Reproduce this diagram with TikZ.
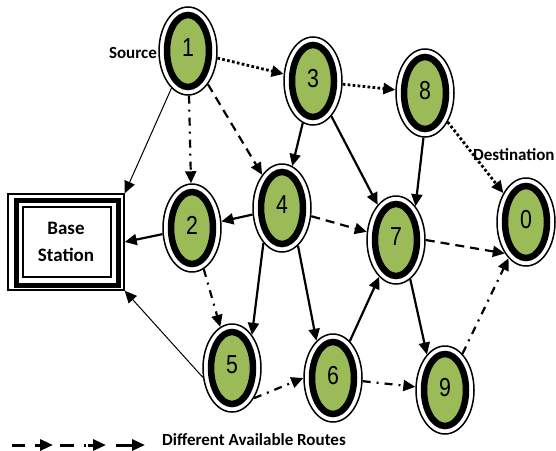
\documentclass[tikz,border=0pt]{standalone}
\usepackage{fontspec}
\setmainfont{Carlito}
\newfontfamily\digitfont[FakeStretch=0.82]{Liberation Sans}
\usetikzlibrary{arrows.meta,shapes.geometric}
\definecolor{nodegreen}{RGB}{155,187,89}
\begin{document}
\begin{tikzpicture}[x=1pt,y=-1pt,
  mote/.style={ellipse, draw, line width=1.5pt, minimum width=58pt, minimum height=88pt,
    inner sep=0pt, font=\digitfont\fontsize{26}{26}\selectfont, text depth=6pt,
    path picture={\draw[line width=6.5pt, fill=nodegreen] (path picture bounding box.center)
      ellipse [x radius=21pt, y radius=36pt];}},
  station/.style={rectangle, draw, line width=1.5pt, minimum width=116pt, minimum height=96pt,
    inner sep=0pt, align=center, font=\bfseries\fontsize{19}{27}\selectfont,
    path picture={
      \draw[line width=5pt] ([xshift=8pt,yshift=-6pt]path picture bounding box.north west)
        rectangle ([xshift=-6pt,yshift=5pt]path picture bounding box.south east);
      \draw[line width=1.5pt] ([xshift=15pt,yshift=-13pt]path picture bounding box.north west)
        rectangle ([xshift=-13pt,yshift=13pt]path picture bounding box.south east);}},
  lbl/.style={font=\bfseries\fontsize{17}{17}\selectfont, inner sep=0pt},
  tip/.style={-{Triangle[length=12pt,width=11pt]}},
  route/.style={line width=2.2pt, tip},
  thinroute/.style={line width=1pt, tip},
  dotroute/.style={route, line width=2.8pt, dash pattern=on 2.7pt off 2.3pt},
  dashroute/.style={route, dash pattern=on 9pt off 6pt},
  dashdotroute/.style={route, dash pattern=on 8pt off 6pt on 2pt off 6pt},
  legendarrow/.style={line width=3pt, -{Triangle[length=13pt,width=11pt]}}
]
\useasboundingbox (0,0) rectangle (556,450);

\node[station] (bs) at (66,242) {Base\\Station};

\node[mote] (n1) at (188,51) {1};
\node[mote] (n3) at (313,81) {3};
\node[mote] (n8) at (425,93) {8};
\node[mote] (n2) at (192,228) {2};
\node[mote] (n4) at (282,208) {4};
\node[mote] (n7) at (396,240) {7};
\node[mote] (n0) at (526,222) {0};
\node[mote] (n5) at (232,368) {5};
\node[mote] (n6) at (333,378) {6};
\node[mote] (n9) at (445,390) {9};

\node[lbl, anchor=east] (src) at (157,53) {Source};
\node[lbl, anchor=west] (dst) at (473,155) {Destination};

% dotted route
\draw[dotroute] (n1) -- (n3);
\draw[dotroute] (n3) -- (n8);
\draw[dotroute] (n8) -- (n0);
% dash-dot route
\draw[dashdotroute] (n1) -- (n2);
\draw[dashdotroute] (n2) -- (n5);
\draw[dashdotroute] (n5.-54) -- (n6.west);
\draw[dashdotroute] (n6) -- (n9);
\draw[dashdotroute] (n9) -- (n0);
% dashed route
\draw[dashroute] (n1) -- (n4);
\draw[dashroute] (n4) -- (n7);
\draw[dashroute] (n7.east) -- (n0.-124);
% to base station
\draw[thinroute] (n1) -- (bs.north east);
\draw[thinroute] (n5.-162) -- (bs.south east);
\draw[route] (n2) -- (bs.east);
% solid links
\draw[route] (n3) -- (n4);
\draw[route] (n3) -- (n7);
\draw[route] (n8.-92) -- (n7.60);
\draw[route] (n4) -- (n2);
\draw[route] (n4.-118) -- (n5.59);
\draw[route] (n4.-67) -- (n6.114);
\draw[route] (n6) -- (n7);
\draw[route] (n7.-70) -- (n9.117);

% legend
\coordinate (la1) at (12,445); \coordinate (lb1) at (53,445);
\coordinate (la2) at (60,445); \coordinate (lb2) at (106,445);
\coordinate (la3) at (116,445); \coordinate (lb3) at (145,445);
\draw[legendarrow, dash pattern=on 13pt off 10pt on 40pt] (la1) -- (lb1);
\draw[legendarrow, dash pattern=on 14pt off 10pt on 2pt off 2pt on 40pt] (la2) -- (lb2);
\draw[legendarrow] (la3) -- (lb3);
\node[lbl, anchor=west] (leg) at (162,440) {Different Available Routes};
\end{tikzpicture}
\end{document}
